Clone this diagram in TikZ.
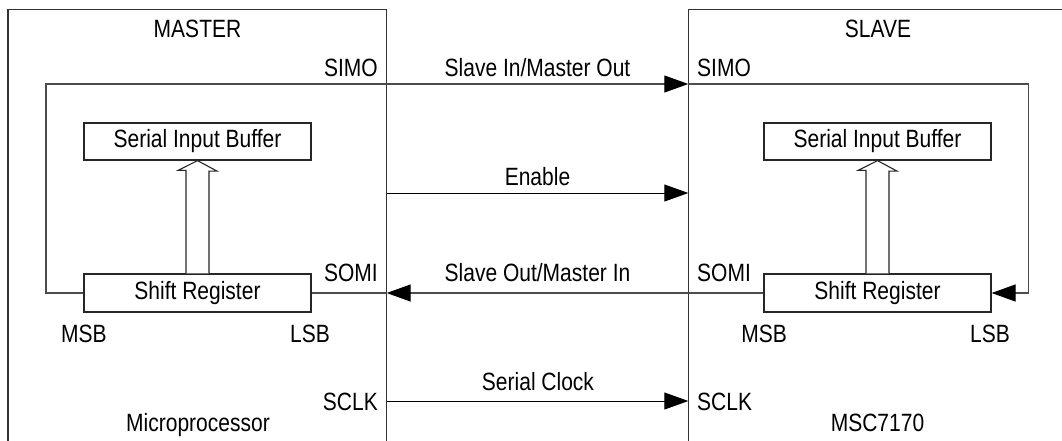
\documentclass[tikz,border=0pt]{standalone}
\usepackage{fontspec}
\setmainfont{Liberation Sans}[FakeStretch=0.84]
\usetikzlibrary{arrows.meta}
\begin{document}
\begin{tikzpicture}[x=1pt,y=-1pt,
  frame/.style={draw=black!80,line width=1.3pt},
  wire/.style={draw=black!70,line width=1.2pt},
  thinwire/.style={draw=black,line width=1pt},
  tip/.style={-{Triangle[length=24pt,width=17pt,color=black]}},
  blk/.style={draw=black!85,line width=1.2pt,minimum width=227pt,minimum height=37pt,inner sep=0pt,font=\fontsize{25}{29}\selectfont},
  lbl/.style={inner sep=0pt,font=\fontsize{25}{29}\selectfont},
  hollow/.style={draw=black!85,line width=1.1pt,fill=white}]
\useasboundingbox (0,0) rectangle (1062,440);
% device frames
\draw[frame] (8,441) -- (8,9.3) -- (386.7,9.3) -- (386.7,441);
\draw[frame] (1063,9.3) -- (688.3,9.3) -- (688.3,441);
% blocks
\node[blk] (mbuf) at (197.5,141.5) {Serial Input Buffer};
\node[blk,minimum height=38pt] (mreg) at (197.5,293) {Shift Register};
\node[blk] (sbuf) at (877.5,141.5) {Serial Input Buffer};
\node[blk,minimum height=38pt] (sreg) at (877.5,293) {Shift Register};
% edge coordinates
\coordinate (msomi) at (386.7,293);
\coordinate (ssimo) at (688.3,84);
\coordinate (menable) at (386.7,193);
\coordinate (senable) at (688.3,193);
\coordinate (msclk) at (386.7,401);
\coordinate (ssclk) at (688.3,401);
\coordinate (mloop) at (46,293);
\coordinate (sloop) at (1028.5,293);
% SIMO
\draw[wire,tip] (mreg.west) -- (mloop) |- (ssimo);
\draw[wire,tip] (ssimo) -| (sloop) -- (sreg.east);
% SOMI
\draw[wire,tip] (sreg.west) -- (msomi);
\draw[wire] (msomi) -- (mreg.east);
% Enable, SCLK
\draw[thinwire,tip] (menable) -- (senable);
\draw[thinwire,tip] (msclk) -- (ssclk);
% hollow arrows
\draw[hollow] ([xshift=-11.5pt]mreg.north) -- ++(0,-103) -- ++(-8,0) -- (mbuf.south) -- ([xshift=19.5pt,yshift=-10.5pt]mbuf.south) -- ++(-8,0) -- ([xshift=11.5pt]mreg.north);
\draw[hollow] ([xshift=-11.5pt]sreg.north) -- ++(0,-103) -- ++(-8,0) -- (sbuf.south) -- ([xshift=19.5pt,yshift=-10.5pt]sbuf.south) -- ++(-8,0) -- ([xshift=11.5pt]sreg.north);
% labels
\node[lbl,anchor=base] (tmaster) at (197.5,37.3) {MASTER};
\node[lbl,anchor=base] (tslave) at (878,37.3) {SLAVE};
\node[lbl,anchor=base east] (tmsimo) at (378,76.7) {SIMO};
\node[lbl,anchor=base west] (tssimo) at (697,76.7) {SIMO};
\node[lbl,anchor=base] (tsimo) at (537.5,76) {Slave In/Master Out};
\node[lbl,anchor=base] (ten) at (537.5,185) {Enable};
\node[lbl,anchor=base] (tsomi) at (537.5,281) {Slave Out/Master In};
\node[lbl,anchor=base east] (tmsomi) at (378,281.7) {SOMI};
\node[lbl,anchor=base west] (tssomi) at (697,281.7) {SOMI};
\node[lbl,anchor=base] (tmmsb) at (84,342.7) {MSB};
\node[lbl,anchor=base] (tmlsb) at (310,342.7) {LSB};
\node[lbl,anchor=base] (tsmsb) at (764,342.7) {MSB};
\node[lbl,anchor=base] (tslsb) at (990,342.7) {LSB};
\node[lbl,anchor=base] (tclk) at (538,390) {Serial Clock};
\node[lbl,anchor=base east] (tmsclk) at (378,410.7) {SCLK};
\node[lbl,anchor=base west] (tssclk) at (697,410.7) {SCLK};
\node[lbl,anchor=base] (tmicro) at (198,431.7) {Microprocessor};
\node[lbl,anchor=base] (tmsc) at (877.5,431.7) {MSC7170};
\end{tikzpicture}
\end{document}
